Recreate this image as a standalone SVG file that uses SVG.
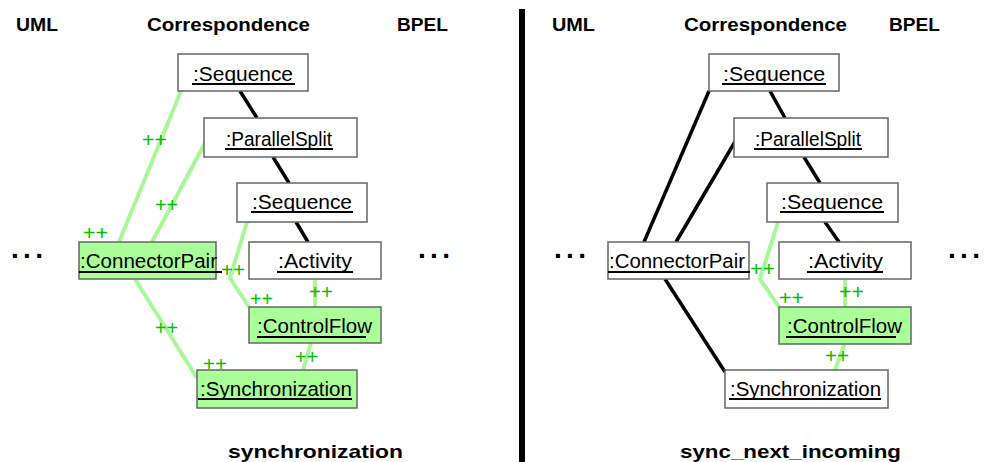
<svg xmlns="http://www.w3.org/2000/svg" width="984" height="462" viewBox="0 0 984 462">
<style>
.hdr{font-family:"Liberation Sans",Arial,sans-serif;font-weight:bold;font-size:19px;fill:#000}
.lbl{font-family:"Liberation Sans",Arial,sans-serif;font-size:20px;fill:#000}
.pp{font-family:"Liberation Sans",Arial,sans-serif;font-size:20px;fill:#00c000}
.dots{font-family:"Liberation Sans",Arial,sans-serif;font-weight:bold;font-size:28px;fill:#000;letter-spacing:4.3px}
.box{fill:#fff;stroke:#666;stroke-width:1.5}
.gbox{fill:#aaff99;stroke:#666;stroke-width:1.5}
.ul{stroke:#000;stroke-width:2}
.blk{stroke:#000;stroke-width:3.5;fill:none}
.grn{stroke:#aaf799;stroke-width:4;fill:none}
</style>
<rect x="519" y="9" width="6" height="453" fill="#000"/>
<g id="headers">
<text class="hdr" x="16" y="31" textLength="42" lengthAdjust="spacingAndGlyphs">UML</text>
<text class="hdr" x="147" y="31" textLength="163" lengthAdjust="spacingAndGlyphs">Correspondence</text>
<text class="hdr" x="397" y="31" textLength="51" lengthAdjust="spacingAndGlyphs">BPEL</text>
<text class="hdr" x="552" y="31" textLength="43" lengthAdjust="spacingAndGlyphs">UML</text>
<text class="hdr" x="684" y="31" textLength="163" lengthAdjust="spacingAndGlyphs">Correspondence</text>
<text class="hdr" x="889" y="31" textLength="51" lengthAdjust="spacingAndGlyphs">BPEL</text>
<text class="hdr" x="228" y="458" textLength="175" lengthAdjust="spacingAndGlyphs">synchronization</text>
<text class="hdr" x="680" y="458" textLength="221" lengthAdjust="spacingAndGlyphs">sync_next_incoming</text>
<text class="dots" x="11" y="258">...</text>
<text class="dots" x="418" y="258">...</text>
<text class="dots" x="554" y="258">...</text>
<text class="dots" x="948" y="258">...</text>
</g>
<g id="connectors">
<line class="blk" x1="240" y1="91" x2="257" y2="118"/>
<line class="blk" x1="273" y1="157" x2="289" y2="183"/>
<line class="blk" x1="296" y1="222" x2="308" y2="242"/>
<line class="grn" x1="181" y1="91" x2="119" y2="242"/>
<line class="grn" x1="205" y1="143" x2="152" y2="242"/>
<polyline class="grn" points="247,222 230,278 249,307"/>
<line class="grn" x1="315" y1="279" x2="315" y2="307"/>
<line class="grn" x1="135" y1="279" x2="197" y2="378"/>
<line class="grn" x1="311" y1="343" x2="303" y2="370"/>
<line class="blk" x1="770" y1="91" x2="785" y2="118"/>
<line class="blk" x1="709" y1="91" x2="644" y2="242"/>
<line class="blk" x1="736" y1="140" x2="676" y2="242"/>
<line class="blk" x1="804" y1="157" x2="820" y2="183"/>
<line class="blk" x1="825" y1="222" x2="839" y2="242"/>
<line class="blk" x1="665" y1="279" x2="725" y2="372"/>
<polyline class="grn" points="778,222 760,279 779,307"/>
<line class="grn" x1="845" y1="279" x2="845" y2="307"/>
<line class="grn" x1="845" y1="343" x2="835" y2="370"/>
</g>
<g id="marks">
<text class="pp" x="142" y="147" textLength="25" lengthAdjust="spacingAndGlyphs">++</text>
<text class="pp" x="155" y="212" textLength="23" lengthAdjust="spacingAndGlyphs">++</text>
<text class="pp" x="83" y="240" textLength="25" lengthAdjust="spacingAndGlyphs">++</text>
<text class="pp" x="221" y="277" textLength="24" lengthAdjust="spacingAndGlyphs">++</text>
<text class="pp" x="250" y="306" textLength="23" lengthAdjust="spacingAndGlyphs">++</text>
<text class="pp" x="309" y="299" textLength="24" lengthAdjust="spacingAndGlyphs">++</text>
<text class="pp" x="155" y="335" textLength="23" lengthAdjust="spacingAndGlyphs">++</text>
<text class="pp" x="203" y="371" textLength="24" lengthAdjust="spacingAndGlyphs">++</text>
<text class="pp" x="295" y="364" textLength="23" lengthAdjust="spacingAndGlyphs">++</text>
<text class="pp" x="750" y="276" textLength="25" lengthAdjust="spacingAndGlyphs">++</text>
<text class="pp" x="779" y="305" textLength="25" lengthAdjust="spacingAndGlyphs">++</text>
<text class="pp" x="839" y="299" textLength="25" lengthAdjust="spacingAndGlyphs">++</text>
<text class="pp" x="825" y="363" textLength="24" lengthAdjust="spacingAndGlyphs">++</text>
</g>
<g id="L_Sequence1"><rect class="box" x="178" y="54" width="130" height="37"/><text class="lbl" x="193" y="81" textLength="100" lengthAdjust="spacingAndGlyphs">:Sequence</text><line class="ul" x1="192" y1="84" x2="295" y2="84"/></g>
<g id="L_ParallelSplit"><rect class="box" x="204" y="118" width="153" height="39"/><text class="lbl" x="226" y="146" textLength="106" lengthAdjust="spacingAndGlyphs">:ParallelSplit</text><line class="ul" x1="225" y1="149" x2="333" y2="149"/></g>
<g id="L_Sequence2"><rect class="box" x="237" y="183" width="130" height="39"/><text class="lbl" x="252" y="209" textLength="100" lengthAdjust="spacingAndGlyphs">:Sequence</text><line class="ul" x1="251" y1="212" x2="353" y2="212"/></g>
<g id="L_Activity"><rect class="box" x="249" y="242" width="132" height="37"/><text class="lbl" x="278" y="268" textLength="74" lengthAdjust="spacingAndGlyphs">:Activity</text><line class="ul" x1="277" y1="272" x2="353" y2="272"/></g>
<g id="L_ConnectorPair"><rect class="gbox" x="79" y="242" width="137" height="37"/><text class="lbl" x="80" y="268" textLength="137" lengthAdjust="spacingAndGlyphs">:ConnectorPair</text><line class="ul" x1="79" y1="272" x2="222" y2="272"/></g>
<g id="L_ControlFlow"><rect class="gbox" x="249" y="307" width="132" height="36"/><text class="lbl" x="257" y="333" textLength="115" lengthAdjust="spacingAndGlyphs">:ControlFlow</text><line class="ul" x1="257" y1="337" x2="366" y2="337"/></g>
<g id="L_Synchronization"><rect class="gbox" x="197" y="370" width="160" height="38"/><text class="lbl" x="200" y="396" textLength="152" lengthAdjust="spacingAndGlyphs">:Synchronization</text><line class="ul" x1="198" y1="399" x2="352" y2="399"/></g>
<g id="R_Sequence1"><rect class="box" x="709" y="54" width="130" height="37"/><text class="lbl" x="723" y="81" textLength="102" lengthAdjust="spacingAndGlyphs">:Sequence</text><line class="ul" x1="722" y1="84" x2="826" y2="84"/></g>
<g id="R_ParallelSplit"><rect class="box" x="734" y="118" width="154" height="39"/><text class="lbl" x="755" y="146" textLength="106" lengthAdjust="spacingAndGlyphs">:ParallelSplit</text><line class="ul" x1="754" y1="149" x2="862" y2="149"/></g>
<g id="R_Sequence2"><rect class="box" x="767" y="183" width="131" height="39"/><text class="lbl" x="781" y="209" textLength="102" lengthAdjust="spacingAndGlyphs">:Sequence</text><line class="ul" x1="780" y1="212" x2="884" y2="212"/></g>
<g id="R_Activity"><rect class="box" x="779" y="242" width="132" height="37"/><text class="lbl" x="808" y="268" textLength="75" lengthAdjust="spacingAndGlyphs">:Activity</text><line class="ul" x1="807" y1="272" x2="883" y2="272"/></g>
<g id="R_ConnectorPair"><rect class="box" x="608" y="242" width="141" height="37"/><text class="lbl" x="609" y="268" textLength="136" lengthAdjust="spacingAndGlyphs">:ConnectorPair</text><line class="ul" x1="608" y1="272" x2="750" y2="272"/></g>
<g id="R_ControlFlow"><rect class="gbox" x="779" y="307" width="132" height="37"/><text class="lbl" x="787" y="333" textLength="115" lengthAdjust="spacingAndGlyphs">:ControlFlow</text><line class="ul" x1="786" y1="337" x2="896" y2="337"/></g>
<g id="R_Synchronization"><rect class="box" x="725" y="370" width="163" height="38"/><text class="lbl" x="730" y="396" textLength="151" lengthAdjust="spacingAndGlyphs">:Synchronization</text><line class="ul" x1="729" y1="399" x2="881" y2="399"/></g>
</svg>
